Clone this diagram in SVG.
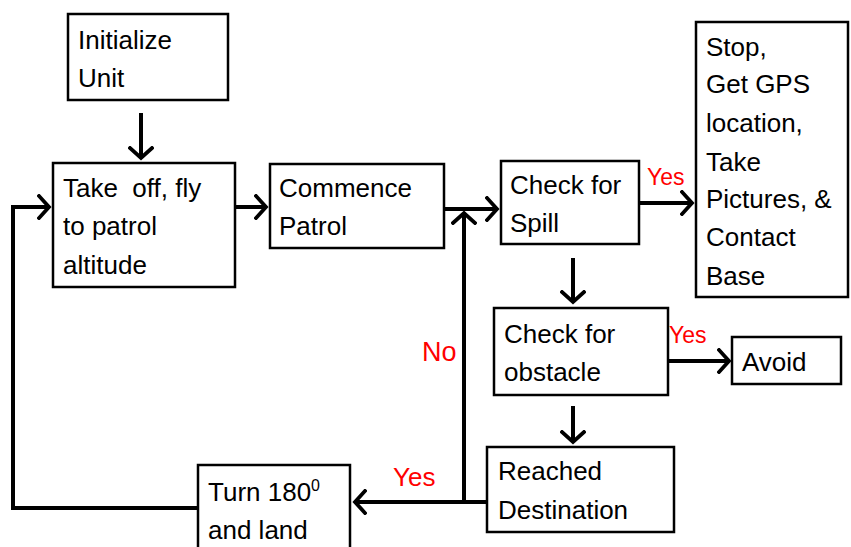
<svg xmlns="http://www.w3.org/2000/svg" width="851" height="547" viewBox="0 0 851 547">
<defs>
<marker id="arr" markerUnits="userSpaceOnUse" markerWidth="20" markerHeight="26" refX="12" refY="13" orient="auto">
<path d="M2,2 L12,13 L2,24" fill="none" stroke="#000" stroke-width="3.8" stroke-linecap="square"/>
</marker>
<style>
.box{fill:#fff;stroke:#000;stroke-width:2.5}
.t{font-family:"Liberation Sans",Arial,sans-serif;font-size:26px;fill:#000}
.r{font-family:"Liberation Sans",Arial,sans-serif;fill:#f00}
.c{fill:none;stroke:#000;stroke-width:4}
</style>
</defs>
<rect width="851" height="547" fill="#fff"/>
<g id="connectors">
<line class="c" x1="141" y1="113" x2="141" y2="158" marker-end="url(#arr)"/>
<line class="c" x1="235" y1="207" x2="266" y2="207" marker-end="url(#arr)"/>
<line class="c" x1="444" y1="209" x2="497" y2="209" marker-end="url(#arr)"/>
<line class="c" x1="639" y1="203" x2="692" y2="203" marker-end="url(#arr)"/>
<line class="c" x1="573" y1="258" x2="573" y2="302" marker-end="url(#arr)"/>
<line class="c" x1="668" y1="361" x2="729" y2="361" marker-end="url(#arr)"/>
<line class="c" x1="573" y1="406" x2="573" y2="442" marker-end="url(#arr)"/>
<line class="c" x1="487" y1="502" x2="355" y2="502" marker-end="url(#arr)"/>
<line class="c" x1="464" y1="502" x2="464" y2="213" marker-end="url(#arr)"/>
<polyline class="c" points="197,508 13,508 13,207 49,207" marker-end="url(#arr)"/>
<text class="r" x="647" y="185" font-size="23">Yes</text>
<text class="r" x="669" y="343" font-size="23">Yes</text>
<text class="r" x="422" y="361" font-size="27">No</text>
<text class="r" x="393" y="486" font-size="26">Yes</text>
</g>
<g id="init"><rect class="box" x="68" y="14" width="160" height="86"/>
<text class="t" x="78" y="49">Initialize</text><text class="t" x="78" y="87">Unit</text></g>
<g id="takeoff"><rect class="box" x="53" y="163" width="182" height="124"/>
<text class="t" x="63" y="197" xml:space="preserve">Take  off, fly</text><text class="t" x="63" y="235">to patrol</text><text class="t" x="63" y="274">altitude</text></g>
<g id="commence"><rect class="box" x="270" y="164" width="174" height="84"/>
<text class="t" x="279" y="197">Commence</text><text class="t" x="279" y="235">Patrol</text></g>
<g id="spill"><rect class="box" x="501" y="161" width="138" height="83"/>
<text class="t" x="510" y="194">Check for</text><text class="t" x="510" y="232">Spill</text></g>
<g id="stop"><rect class="box" x="696" y="22" width="152" height="275"/>
<text class="t" x="706" y="56">Stop,</text><text class="t" x="706" y="93">Get GPS</text><text class="t" x="706" y="132">location,</text><text class="t" x="706" y="171">Take</text><text class="t" x="706" y="208">Pictures, &amp;</text><text class="t" x="706" y="246">Contact</text><text class="t" x="706" y="285">Base</text></g>
<g id="obstacle"><rect class="box" x="494" y="308" width="174" height="87"/>
<text class="t" x="504" y="343">Check for</text><text class="t" x="504" y="381">obstacle</text></g>
<g id="avoid"><rect class="box" x="732" y="337" width="109" height="47"/>
<text class="t" x="742" y="371">Avoid</text></g>
<g id="reached"><rect class="box" x="487" y="447" width="187" height="85"/>
<text class="t" x="498" y="480">Reached</text><text class="t" x="498" y="519">Destination</text></g>
<g id="turn"><rect class="box" x="198" y="465" width="152" height="95"/>
<text class="t" x="208" y="501">Turn 180<tspan font-size="16" dy="-10">0</tspan></text><text class="t" x="208" y="539">and land</text></g>
</svg>
